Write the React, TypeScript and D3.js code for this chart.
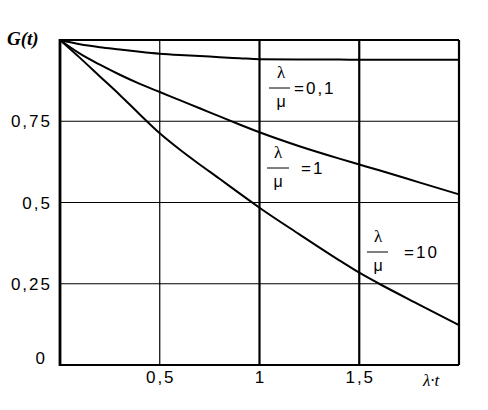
import * as d3 from 'd3';

// G(t) for three values of λ/μ
const tValues = [0, 0.1, 0.2, 0.3, 0.4, 0.5, 0.6, 0.7, 0.8, 0.9, 1.0, 1.2, 1.4, 1.5, 1.6, 1.8, 2.0];
const gRatio01 = [1, 0.987, 0.978, 0.971, 0.964, 0.958, 0.954, 0.951, 0.947, 0.944, 0.941, 0.94, 0.94, 0.939, 0.939, 0.939, 0.939];
const gRatio1 = [1, 0.958, 0.924, 0.893, 0.865, 0.84, 0.815, 0.79, 0.765, 0.74, 0.716, 0.673, 0.635, 0.617, 0.599, 0.562, 0.525];
const gRatio10 = [1, 0.945, 0.888, 0.831, 0.771, 0.713, 0.663, 0.617, 0.573, 0.528, 0.484, 0.402, 0.322, 0.284, 0.25, 0.186, 0.123];

const xTicks = [0.5, 1, 1.5];
const xTickLabels = ['0,5', '1', '1,5'];
const yTicks = [0, 0.25, 0.5, 0.75];
const yTickLabels = ['0', '0,25', '0,5', '0,75'];
const thinX = [0.5];
const thinY = [0.25, 0.5, 0.75];
const thickX = [1, 1.5, 2];

const W = 488;
const H = 410;
const left = 60, right = 459, top = 40, bottom = 365;

const sans = '"Liberation Sans", Arial, sans-serif';
const serif = '"Liberation Serif", "Times New Roman", serif';

export default function App() {
  const x = d3.scaleLinear().domain([0, 2]).range([left, right]);
  const y = d3.scaleLinear().domain([0, 1]).range([bottom, top]);

  const line = d3.line<number>()
    .x((_, i) => x(tValues[i]))
    .y(d => y(d))
    .curve(d3.curveMonotoneX);

  const series = [gRatio01, gRatio1, gRatio10];

  // fraction label  λ/μ = value
  const ratioLabel = (cx: number, bx1: number, bx2: number, barY: number, text: string, tx: number, key: string) => (
    <g key={key}>
      <text x={cx} y={barY - 10} textAnchor="middle" fontFamily={serif} fontSize={17}>λ</text>
      <line x1={bx1} x2={bx2} y1={barY} y2={barY} stroke="#000" strokeWidth={1} />
      <text x={cx} y={barY + 18.5} textAnchor="middle" fontFamily={sans} fontSize={16}>μ</text>
      <text x={tx} y={barY + 5.5} fontFamily={sans} fontSize={17} letterSpacing={2}>{text}</text>
    </g>
  );

  return (
    <div style={{ position: 'absolute', left: 0, top: 0 }}>
      <svg width={W} height={H} style={{ display: 'block', background: '#fff' }}>
        {/* thin grid */}
        {thinX.map(v => (
          <line key={'vx' + v} x1={x(v)} x2={x(v)} y1={top} y2={bottom} stroke="#000" strokeWidth={1.2} />
        ))}
        {thinY.map(v => (
          <line key={'hy' + v} x1={left} x2={right} y1={y(v)} y2={y(v)} stroke="#000" strokeWidth={1.2} />
        ))}
        {/* thick lines */}
        {thickX.map(v => (
          <line key={'tx' + v} x1={x(v)} x2={x(v)} y1={top} y2={bottom} stroke="#000" strokeWidth={2.2} />
        ))}
        <line x1={left} x2={right} y1={y(1)} y2={y(1)} stroke="#000" strokeWidth={2} />
        <line x1={left} x2={right} y1={y(0)} y2={y(0)} stroke="#000" strokeWidth={2} />
        <line x1={x(0)} x2={x(0)} y1={top - 1} y2={bottom + 1} stroke="#000" strokeWidth={2.8} />

        {/* curves */}
        {series.map((s, i) => (
          <path key={'c' + i} d={line(s) || ''} fill="none" stroke="#000" strokeWidth={2} />
        ))}

        {/* y tick labels */}
        {yTicks.map((v, i) => (
          <text key={'yl' + v} x={v === 0 ? 47 : 52} y={y(v) + (v === 0 ? -1 : 6)} textAnchor="end"
            fontFamily={sans} fontSize={17} letterSpacing={2}>{yTickLabels[i]}</text>
        ))}
        {/* x tick labels */}
        {xTicks.map((v, i) => (
          <text key={'xl' + v} x={x(v) + 1} y={383} textAnchor="middle"
            fontFamily={sans} fontSize={17} letterSpacing={2}>{xTickLabels[i]}</text>
        ))}

        <text x={7} y={45} fontFamily={serif} fontSize={19} fontStyle="italic" fontWeight="bold">G(t)</text>
        <text x={423} y={386} fontFamily={serif} fontSize={17} fontStyle="italic">λ·t</text>

        {ratioLabel(281, 269, 290, 88, '=0,1', 294, 'r1')}
        {ratioLabel(278, 267, 289, 168, '=1', 301, 'r2')}
        {ratioLabel(378, 367, 388, 252, '=10', 404, 'r3')}
      </svg>
    </div>
  );
}
